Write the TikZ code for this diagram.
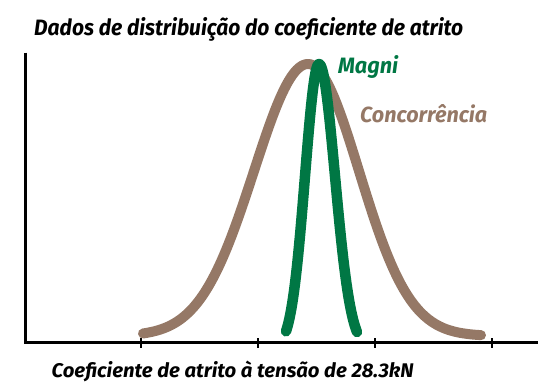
\documentclass[tikz,border=0pt]{standalone}
\usepackage{fontspec}
\newfontfamily\lbl{Fira Sans}
\definecolor{brownc}{HTML}{957866}
\definecolor{greenc}{HTML}{007744}
\tikzset{
  axis/.style={line width=3pt, black},
  tickmark/.style={line width=2pt, black},
  brwn/.style={line width=10pt, brownc, line cap=round, line join=round},
  grn/.style={line width=10.5pt, greenc, line cap=round, line join=round},
  lab/.style={inner sep=0pt, anchor=base west, font=\lbl\bfseries\itshape}
}
\begin{document}
\begin{tikzpicture}[x=1pt,y=-1pt]
\useasboundingbox (0,0) rectangle (538,381);
% axes
\coordinate (ytop) at (25,52.5);
\coordinate (orig) at (25,342);
\coordinate (xend) at (538,342);
\draw[axis] (ytop) -- (orig) -- (xend);
\foreach \t in {141,258,375,492}{
  \coordinate (t\t) at (\t,338);
  \draw[tickmark] (t\t) -- ++(0,9.5);
}
% brown curve (two gaussian halves)
\draw[brwn] plot[domain=143:308, samples=60, smooth] (\x, {336-272*exp(-0.5*((\x-308)/54)^2)})
  -- plot[domain=308:481, samples=60, smooth] (\x, {336-272*exp(-0.5*((\x-308)/51)^2)});
% green curve
\draw[grn] plot[domain=286:319, samples=40, smooth] (\x, {349-285*exp(-0.5*((\x-319)/14)^2)})
  -- plot[domain=319:357, samples=40, smooth] (\x, {349-285*exp(-0.5*((\x-319)/16)^2)});
% labels
\node[lab] (title) at (34,35) {\resizebox{429pt}{18pt}{Dados de distribuição do coeficiente de atrito}};
\node[lab, text=greenc] (magni) at (338,73) {\resizebox{60pt}{18pt}{Magni}};
\node[lab, text=brownc] (conc) at (360,122) {\resizebox{127pt}{18pt}{Concorrência}};
\node[lab] (xlab) at (51.5,377) {\resizebox{362pt}{16.5pt}{Coeficiente de atrito à tensão de 28.3kN}};
\end{tikzpicture}
\end{document}
